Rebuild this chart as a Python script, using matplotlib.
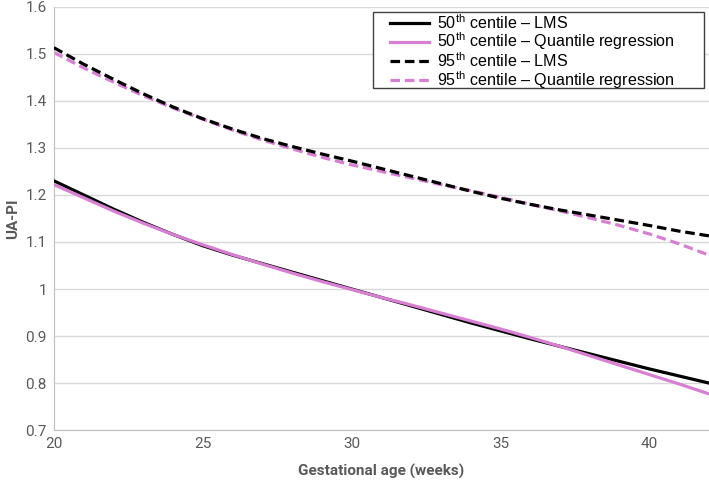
import numpy as np
import matplotlib.pyplot as plt
from matplotlib.patches import Rectangle

plt.rcParams['mathtext.fontset'] = 'custom'
plt.rcParams['mathtext.rm'] = 'Liberation Sans'

# gestational age (weeks)
weeks = list(range(20, 43))

# UA-PI centiles
lms_50 = [1.230, 1.200, 1.170, 1.142, 1.116, 1.092, 1.072, 1.054, 1.036, 1.018,
          1.000, 0.982, 0.964, 0.946, 0.928, 0.911, 0.894, 0.878, 0.862, 0.846,
          0.830, 0.815, 0.800]
qr_50 = [1.222, 1.194, 1.166, 1.140, 1.116, 1.094, 1.073, 1.053, 1.034, 1.016,
         0.999, 0.982, 0.966, 0.949, 0.932, 0.915, 0.897, 0.878, 0.858, 0.838,
         0.818, 0.798, 0.777]
lms_95 = [1.513, 1.478, 1.446, 1.415, 1.387, 1.362, 1.340, 1.320, 1.303, 1.287,
          1.272, 1.256, 1.240, 1.224, 1.208, 1.193, 1.180, 1.168, 1.157, 1.146,
          1.135, 1.123, 1.113]
qr_95 = [1.503, 1.470, 1.440, 1.411, 1.385, 1.361, 1.338, 1.317, 1.298, 1.280,
         1.264, 1.250, 1.236, 1.222, 1.209, 1.195, 1.180, 1.166, 1.151, 1.135,
         1.117, 1.096, 1.072]

x_ticks = [20, 25, 30, 35, 40]
y_ticks = [0.7, 0.8, 0.9, 1.0, 1.1, 1.2, 1.3, 1.4, 1.5, 1.6]
y_tick_labels = ['0.7', '0.8', '0.9', '1', '1.1', '1.2', '1.3', '1.4', '1.5', '1.6']

black = '#000000'
pink = '#D87FD4'
grey = '#595959'

fig = plt.figure(figsize=(7.09, 4.86), dpi=100)
ax = fig.add_axes([0.076, 0.115, 0.924, 0.871])

ax.plot(weeks, lms_50, color=black, lw=2.3, label=r'50$^{\rm th}$ centile – LMS', zorder=3)
ax.plot(weeks, qr_50, color=pink, lw=2.3, label=r'50$^{\rm th}$ centile – Quantile regression', zorder=4)
ax.plot(weeks, lms_95, color=black, lw=2.3, ls=(0, (3, 1.5)), label=r'95$^{\rm th}$ centile – LMS', zorder=3)
ax.plot(weeks, qr_95, color=pink, lw=2.3, ls=(0, (3, 1.5)), label=r'95$^{\rm th}$ centile – Quantile regression', zorder=2)

ax.set_xlim(20, 42)
ax.set_ylim(0.7, 1.6)
ax.set_xticks(x_ticks)
ax.set_yticks(y_ticks)
ax.set_yticklabels(y_tick_labels)
ax.grid(axis='y', color='#D9D9D9', lw=1)
ax.set_axisbelow(True)
for s in ['top', 'right']:
    ax.spines[s].set_visible(False)
for s in ['left', 'bottom']:
    ax.spines[s].set_color('#BFBFBF')
ax.tick_params(length=0, labelsize=11, labelcolor=grey, pad=5)
for lab in ax.get_xticklabels() + ax.get_yticklabels():
    lab.set_family('Roboto')

ax.set_xlabel('Gestational age (weeks)', fontsize=11, fontweight='bold', color=grey,
              family='Roboto', labelpad=9)
ax.set_ylabel('UA-PI', fontsize=11, fontweight='bold', color=grey, family='Roboto', labelpad=4)

# legend box: white frame drawn separately, legend itself frameless inside it
ax.add_patch(Rectangle((0.487, 0.8085), 0.505, 0.1795, transform=ax.transAxes,
                       facecolor='white', edgecolor='#404040', lw=1.0, zorder=5))
leg = ax.legend(loc='upper left', bbox_to_anchor=(0.513, 0.985), frameon=False,
                prop={'family': 'Liberation Sans', 'size': 11.6}, handlelength=2.4,
                borderpad=0, labelspacing=-0.07, handletextpad=0.5, borderaxespad=0)
leg.set_zorder(6)

fig.savefig('out.png', dpi=100)
